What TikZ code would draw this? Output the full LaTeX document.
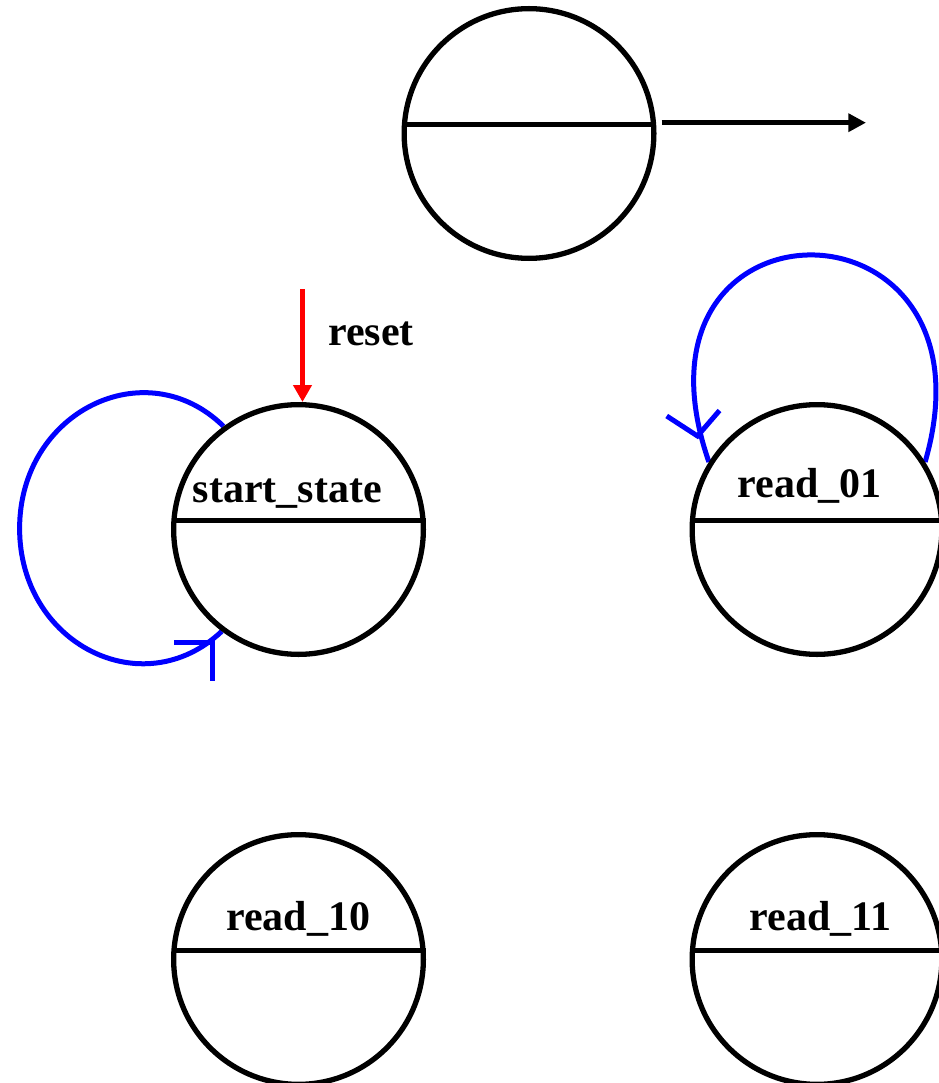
\documentclass[tikz,border=0pt]{standalone}
\usepackage{fontspec}
\setmainfont{Liberation Serif}
\usetikzlibrary{arrows.meta,calc,backgrounds}
\begin{document}
\begin{tikzpicture}[x=1pt,y=-1pt,
  state/.style={circle,draw=black,line width=5.3pt,minimum size=249.7pt,inner sep=0pt},
  divider/.style={draw=black,line width=5.3pt},
  lbl/.style={font=\fontsize{42}{50}\selectfont\bfseries,inner sep=0pt,anchor=base},
  selfloop/.style={draw=blue,line width=5pt},
  openhead/.style={draw=blue,line width=5pt,line join=miter},
  resetarrow/.style={draw=red,line width=5pt,-{Triangle[length=17pt,width=18pt]}},
  outarrow/.style={draw=black,line width=5.2pt,-{Triangle[length=17.7pt,width=17.7pt]}}]
\useasboundingbox (0,0) rectangle (938,1083);

% states
\node[state] (top) at (529,133.5) {};
\node[state] (ss)  at (298.5,529.5) {};
\node[state] (r01) at (817,529.5) {};
\node[state] (r10) at (298.5,959.5) {};
\node[state] (r11) at (817,959.5) {};

% dividers
\foreach \s in {top,ss,r01,r10,r11}{
  \draw[divider] ($(\s.west)+(0.5,-9)$) -- ($(\s.east)+(-0.5,-9)$);
}

% labels
\node[lbl] (ssl)  at (287.2,502.3) {start\_state};
\node[lbl] (r01l) at (809.7,497.7) {read\_01};
\node[lbl] (r10l) at (298.3,930.7) {read\_10};
\node[lbl] (r11l) at (820.5,930) {read\_11};
\node[lbl] (rsl)  at (371,345) {reset};

% output arrow of the top state
\coordinate (outend) at (866,122.7);
\draw[outarrow] ($(top.east)+(5,-10.8)$) -- (outend);

% reset arrow
\coordinate (rsstart) at (302.5,289.3);
\draw[resetarrow] (rsstart) -- (rsstart |- ss.north);

% self loops
\begin{scope}[on background layer]
  \coordinate (ssloopL) at (19.6,528.5);
  \draw[selfloop] (ss.126) .. controls (145.8,350) and (19.6,411.6) .. (ssloopL)
                  .. controls (19.6,643.7) and (142.7,705.9) .. (ss.233);
  \draw[selfloop] (r01.32) .. controls +(80,-276) and +(-96,-276) .. (r01.148);
\end{scope}

% open arrowheads of the loops
\coordinate (sstip) at (212,642);
\draw[openhead] ($(sstip)+(-38,0)$) -- (sstip) -- ($(sstip)+(0,39)$);
\coordinate (r01tip) at (697.5,436);
\draw[openhead] ($(r01tip)+(-30.8,-20)$) -- (r01tip) -- ($(r01tip)+(22,-25.5)$);
\end{tikzpicture}
\end{document}
